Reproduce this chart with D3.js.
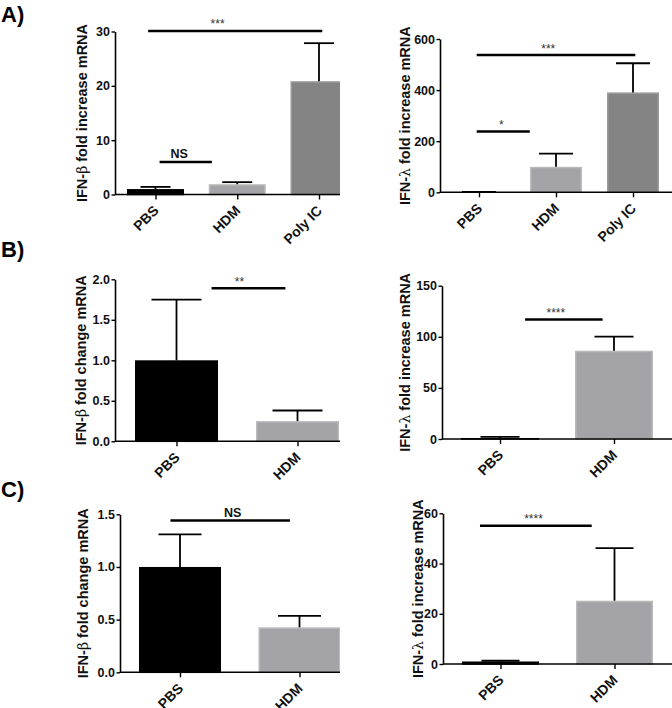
<!DOCTYPE html>
<html>
<head>
<meta charset="utf-8">
<script src="https://cdn.jsdelivr.net/npm/d3@7"></script>
<style>
  html, body { margin: 0; padding: 0; background: #fff; }
  svg { display: block; }
</style>
</head>
<body>
<svg id="chart" width="672" height="708"></svg>
<script>
// ---------------- DATA ----------------
const groupsA = ["PBS", "HDM", "Poly IC"];
const groupsBC = ["PBS", "HDM"];

// Panel A
const aBetaMean = [1.0, 1.9, 20.85];
const aBetaErr  = [0.4, 0.37, 7.0];
const aLambdaMean = [1.0, 100, 391];
const aLambdaErr  = [1.0, 51, 114];
// Panel B
const bBetaMean = [1.0, 0.25];
const bBetaErr  = [0.75, 0.13];
const bLambdaMean = [1.0, 86.4];
const bLambdaErr  = [1.0, 13.7];
// Panel C
const cBetaMean = [1.0, 0.427];
const cBetaErr  = [0.31, 0.108];
const cLambdaMean = [1.0, 25.2];
const cLambdaErr  = [0.3, 20.9];

// y tick labels
const aBetaTicks = [0, 10, 20, 30];
const aLambdaTicks = [0, 200, 400, 600];
const bBetaTicks = [0, 0.5, 1.0, 1.5, 2.0];
const bLambdaTicks = [0, 50, 100, 150];
const cBetaTicks = [0, 0.5, 1.0, 1.5];
const cLambdaTicks = [0, 20, 40, 60];

// significance brackets (from/to/tx in category index units)
const aBetaSig = [
  { from: -0.09, to: 2.04, value: 30.1, text: "***", tx: 0.76 },
  { from: 0.05, to: 0.69, value: 6.0, text: "NS", tx: 0.29 }
];
const aLambdaSig = [
  { from: -0.03, to: 2.03, value: 537, text: "***", tx: 0.90 },
  { from: -0.03, to: 0.66, value: 238, text: "*", tx: 0.29 }
];
const bBetaSig = [{ from: 0.29, to: 0.90, value: 1.89, text: "**", tx: 0.52 }];
const bLambdaSig = [{ from: 0.22, to: 0.90, value: 117, text: "****", tx: 0.49 }];
const cBetaSig = [{ from: -0.08, to: 0.92, value: 1.44, text: "NS", tx: 0.44 }];
const cLambdaSig = [{ from: -0.18, to: 0.80, value: 55, text: "****", tx: 0.29 }];

const panelLetters = ["A)", "B)", "C)"];

// ---------------- STYLE ----------------
const FONT = "'Liberation Sans', Arial, Helvetica, sans-serif";
const fillColor = { "PBS": "#000000", "HDM": "#a4a4a8", "Poly IC": "#848484" };
const edgeColor = { "PBS": "#000000", "HDM": "#bababa", "Poly IC": "#9a9a9a" };

// ---------------- LAYOUT ----------------
const panels = [
  { groups: groupsA, mean: aBetaMean, err: aBetaErr, ticks: aBetaTicks, fmt: d3.format("d"), sig: aBetaSig,
    greek: "\u03B2", label: " fold increase mRNA",
    axisX: 115, xEnd: 340, y0: 194.5, yTop: 31.5, dmax: 30, c0: 155.5, c1: 319, barW: 57, capW: 30, labX: 87, clipX: 340 },
  { groups: groupsA, mean: aLambdaMean, err: aLambdaErr, ticks: aLambdaTicks, fmt: d3.format("d"), sig: aLambdaSig,
    greek: "\u03BB", label: " fold increase mRNA",
    axisX: 440, xEnd: 672, y0: 192.3, yTop: 39, dmax: 600, c0: 479, c1: 633, barW: 52, capW: 34, labX: 410, clipX: 672 },
  { groups: groupsBC, mean: bBetaMean, err: bBetaErr, ticks: bBetaTicks, fmt: d3.format(".1f"), sig: bBetaSig,
    greek: "\u03B2", label: " fold change mRNA",
    axisX: 115, xEnd: 340, y0: 441.3, yTop: 279.3, dmax: 2, c0: 176.5, c1: 297.5, barW: 83, capW: 50, labX: 86, clipX: 340 },
  { groups: groupsBC, mean: bLambdaMean, err: bLambdaErr, ticks: bLambdaTicks, fmt: d3.format("d"), sig: bLambdaSig,
    greek: "\u03BB", label: " fold increase mRNA",
    axisX: 442, xEnd: 672, y0: 439, yTop: 285.7, dmax: 150, c0: 500, c1: 614, barW: 78, capW: 39, labX: 410, clipX: 672 },
  { groups: groupsBC, mean: cBetaMean, err: cBetaErr, ticks: cBetaTicks, fmt: d3.format(".1f"), sig: cBetaSig,
    greek: "\u03B2", label: " fold change mRNA",
    axisX: 120, xEnd: 340, y0: 672.3, yTop: 514.3, dmax: 1.5, c0: 180, c1: 299.5, barW: 82, capW: 43, labX: 88, clipX: 340 },
  { groups: groupsBC, mean: cLambdaMean, err: cLambdaErr, ticks: cLambdaTicks, fmt: d3.format("d"), sig: cLambdaSig,
    greek: "\u03BB", label: " fold increase mRNA",
    axisX: 443, xEnd: 672, y0: 664, yTop: 513.3, dmax: 60, c0: 500.5, c1: 614.5, barW: 77, capW: 38, labX: 423, clipX: 672 }
];
const letterPos = [{ x: 1, y: 22 }, { x: 1, y: 257 }, { x: 1, y: 497 }];

// ---------------- DRAW ----------------
const svg = d3.select("#chart");
svg.append("rect").attr("width", 672).attr("height", 708).attr("fill", "#fff");

const defs = svg.append("defs");

panels.forEach((p, pi) => {
  const y = d3.scaleLinear().domain([0, p.dmax]).range([p.y0, p.yTop]);
  const x = d3.scalePoint().domain(p.groups).range([p.c0, p.c1]);
  const xi = d3.scaleLinear().domain([0, p.groups.length - 1]).range([p.c0, p.c1]);

  const clipId = "clip" + pi;
  defs.append("clipPath").attr("id", clipId)
    .append("rect").attr("x", p.clipX - 340).attr("y", 0).attr("width", 340).attr("height", 708);

  const g = svg.append("g").attr("clip-path", `url(#${clipId})`);

  // bars
  g.selectAll("rect.bar").data(p.groups).enter().append("rect")
    .attr("class", "bar")
    .attr("x", d => x(d) - p.barW / 2 + 0.75)
    .attr("width", p.barW - 1.5)
    .attr("y", (d, i) => y(p.mean[i]) + 0.75)
    .attr("height", (d, i) => Math.max(0, y(0) - y(p.mean[i]) - 0.75))
    .attr("fill", d => fillColor[d])
    .attr("stroke", d => edgeColor[d])
    .attr("stroke-width", 1.5);

  // error bars (upper only)
  const eb = g.selectAll("g.err").data(p.groups).enter().append("g").attr("class", "err");
  eb.append("line")
    .attr("x1", d => x(d)).attr("x2", d => x(d))
    .attr("y1", (d, i) => y(p.mean[i]))
    .attr("y2", (d, i) => y(p.mean[i] + p.err[i]))
    .attr("stroke", "#000").attr("stroke-width", 1.8);
  eb.append("line")
    .attr("x1", d => x(d) - p.capW / 2).attr("x2", d => x(d) + p.capW / 2)
    .attr("y1", (d, i) => y(p.mean[i] + p.err[i]))
    .attr("y2", (d, i) => y(p.mean[i] + p.err[i]))
    .attr("stroke", "#000").attr("stroke-width", 1.8);

  // y axis
  const yAxis = svg.append("g").attr("transform", `translate(${p.axisX},0)`)
    .call(d3.axisLeft(y).tickValues(p.ticks).tickFormat(p.fmt).tickSize(3.5).tickSizeOuter(0).tickPadding(1.5));
  yAxis.attr("font-family", FONT);
  yAxis.select(".domain").attr("stroke-width", 1.6);
  yAxis.selectAll(".tick line").attr("stroke-width", 1.4);
  yAxis.selectAll(".tick text")
    .attr("font-size", 12.5).attr("font-weight", "bold").attr("fill", "#111");

  // x axis line
  g.append("line")
    .attr("x1", p.axisX).attr("x2", p.xEnd)
    .attr("y1", p.y0).attr("y2", p.y0)
    .attr("stroke", "#000").attr("stroke-width", 1.6);

  const xAxis = g.append("g").attr("transform", `translate(0,${p.y0})`)
    .call(d3.axisBottom(x).tickSize(5).tickSizeOuter(0).tickFormat(""));
  xAxis.select(".domain").remove();
  xAxis.selectAll(".tick line").attr("stroke-width", 1.4);

  // rotated category labels
  svg.selectAll(null).data(p.groups).enter().append("g")
    .attr("transform", d => `translate(${x(d) + 4},${p.y0 + 17}) rotate(-45)`)
    .append("text")
    .attr("text-anchor", "end")
    .attr("font-family", FONT)
    .attr("font-size", 14).attr("font-weight", "bold").attr("fill", "#111")
    .text(d => d);

  // y label
  const cy = (p.y0 + p.yTop) / 2;
  const lg = svg.append("g").attr("transform", `translate(${p.labX},${cy}) rotate(-90)`);
  const lab = lg.append("text")
    .attr("text-anchor", "middle")
    .attr("font-family", FONT)
    .attr("font-size", 14.5).attr("font-weight", "bold").attr("fill", "#111");
  lab.append("tspan").text("IFN-");
  lab.append("tspan").attr("font-weight", "normal").attr("font-family", "'DejaVu Serif', serif").attr("font-size", 14).text(p.greek);
  lab.append("tspan").text(p.label);

  // significance
  const sg = svg.append("g");
  sg.selectAll("line").data(p.sig).enter().append("line")
    .attr("x1", d => xi(d.from)).attr("x2", d => xi(d.to))
    .attr("y1", d => y(d.value)).attr("y2", d => y(d.value))
    .attr("stroke", "#000").attr("stroke-width", 2.5);
  sg.selectAll("text").data(p.sig).enter().append("text")
    .attr("x", d => xi(d.tx))
    .attr("y", d => y(d.value) - (d.text === "NS" ? 4 : 2.5))
    .attr("text-anchor", "middle")
    .attr("font-family", FONT)
    .attr("font-size", d => d.text === "NS" ? 12.5 : 12)
    .attr("font-weight", d => d.text === "NS" ? "bold" : "normal")
    .attr("fill", d => d.text === "NS" ? "#111" : "#333")
    .text(d => d.text);
});

// panel letters
svg.selectAll("text.letter").data(panelLetters).enter().append("text")
  .attr("class", "letter")
  .attr("x", (d, i) => letterPos[i].x)
  .attr("y", (d, i) => letterPos[i].y)
  .attr("font-family", FONT)
  .attr("font-size", 22).attr("font-weight", "bold").attr("fill", "#000")
  .text(d => d);
</script>
</body>
</html>
